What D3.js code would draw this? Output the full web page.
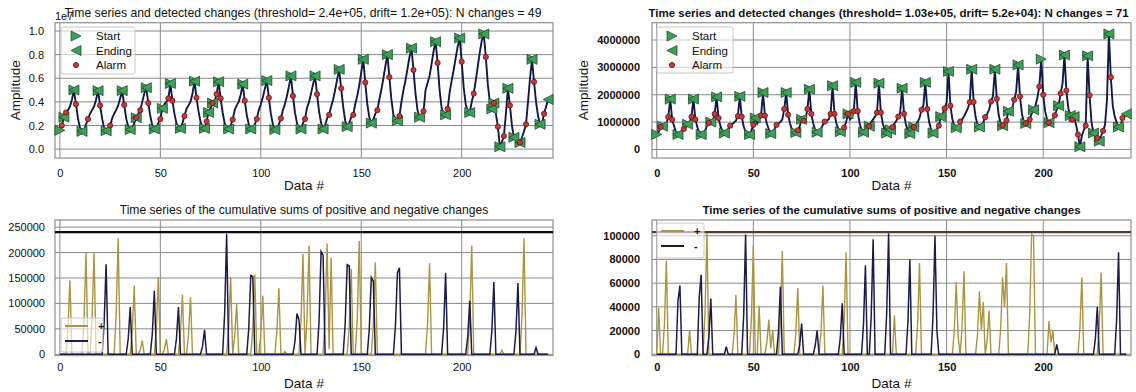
<!DOCTYPE html>
<html><head><meta charset="utf-8">
<script src="https://cdn.jsdelivr.net/npm/d3@7"></script>
<style>body{margin:0;background:#fff} svg text{font-family:"Liberation Sans",Arial,sans-serif;fill:#111}</style>
</head><body><svg id="c" width="1136" height="392"></svg>
<script>
// ---------------- DATA ----------------
const xTicks = [0, 50, 100, 150, 200];

// Left dataset: amplitude in units of 1e7
const ampLeft = [0.16,0.20,0.27,0.31,0.33,0.36,0.42,0.50,0.38,0.26,0.18,0.15,
0.16,0.21,0.255,0.30,0.33,0.36,0.42,0.495,0.37,0.26,0.18,0.155,
0.17,0.20,0.26,0.30,0.33,0.37,0.43,0.495,0.375,0.26,0.19,0.165,
0.175,0.22,0.265,0.30,0.33,0.40,0.47,0.52,0.39,0.28,0.20,0.17,
0.175,0.22,0.255,0.345,0.38,0.40,0.43,0.555,0.41,0.30,0.22,0.185,
0.175,0.22,0.28,0.34,0.37,0.40,0.47,0.575,0.435,0.32,0.23,0.19,
0.175,0.235,0.31,0.35,0.39,0.40,0.465,0.57,0.43,0.31,0.22,0.18,
0.17,0.20,0.25,0.33,0.37,0.40,0.46,0.55,0.41,0.29,0.21,0.17,
0.175,0.21,0.255,0.33,0.38,0.44,0.51,0.58,0.435,0.30,0.21,0.165,
0.17,0.21,0.26,0.33,0.38,0.45,0.53,0.62,0.45,0.31,0.22,0.175,
0.17,0.22,0.255,0.35,0.40,0.47,0.55,0.62,0.465,0.32,0.22,0.17,
0.20,0.26,0.29,0.36,0.42,0.50,0.59,0.675,0.515,0.36,0.24,0.19,
0.22,0.27,0.29,0.38,0.45,0.54,0.65,0.76,0.565,0.38,0.27,0.22,
0.25,0.30,0.33,0.42,0.50,0.60,0.70,0.80,0.61,0.42,0.29,0.245,
0.24,0.28,0.40,0.50,0.58,0.68,0.78,0.855,0.67,0.47,0.33,0.27,
0.28,0.32,0.50,0.56,0.62,0.72,0.83,0.91,0.73,0.50,0.35,0.30,
0.29,0.34,0.48,0.58,0.67,0.77,0.87,0.94,0.74,0.52,0.38,0.32,
0.31,0.40,0.47,0.58,0.70,0.82,0.92,0.975,0.78,0.55,0.40,0.34,
0.39,0.30,0.19,0.02,0.06,0.11,0.30,0.515,0.37,0.20,0.10,0.08,
0.06,0.056,0.10,0.15,0.21,0.40,0.60,0.76,0.57,0.40,0.28,0.21,
0.22,0.30,0.36,0.42];
const startLeft = [0,2,7,11,19,23,31,35,38,43,47,51,55,60,67,72,74,76,79,84,91,95,103,107,115,120,127,131,139,143,151,155,163,168,175,179,187,192,199,204,211,215,216,219,223,226,229,235,239];
const endLeft = [2,7,11,19,23,31,35,38,43,47,51,55,60,67,72,74,76,79,84,91,95,103,107,115,120,127,131,139,143,151,155,163,168,175,179,187,192,199,204,211,215,216,219,223,226,229,235,239,243];
const alarmLeft = [1,3,8,14,20,25,32,38,40,44,50,54,56,62,68,73,76,78,80,86,92,98,104,110,116,122,128,134,140,146,152,158,164,169,176,181,188,193,200,206,212,216,218,221,224,229,232,236,241];
const yTicksTL = [0, 0.2, 0.4, 0.6, 0.8, 1.0];

// Right dataset: amplitude in millions
const ampRightM = [0.55,0.65,0.82,0.85,0.88,0.95,1.19,1.84,1.09,0.85,0.62,0.545,
0.58,0.65,0.75,0.88,0.92,0.98,1.2,1.84,1.1,0.82,0.62,0.545,
0.56,0.7,0.85,0.97,1.0,1.05,1.3,1.92,1.15,0.85,0.66,0.6,
0.62,0.75,0.87,0.92,0.98,1.05,1.22,1.94,1.2,0.85,0.64,0.56,
0.545,0.7,0.9,1.15,0.95,1.1,1.24,2.08,1.24,0.95,0.73,0.58,
0.58,0.75,0.9,0.95,1.0,1.1,1.48,2.08,1.27,0.95,0.72,0.62,
0.62,0.7,0.85,1.1,1.05,1.1,1.48,2.2,1.3,0.95,0.72,0.63,
0.63,0.75,0.9,1.02,1.05,1.1,1.3,2.33,1.3,0.95,0.75,0.65,
0.65,0.8,1.0,1.3,1.1,1.2,1.4,2.45,1.4,0.95,0.72,0.63,
0.63,0.75,0.85,1.0,1.1,1.2,1.35,2.42,1.35,0.95,0.7,0.6,
0.62,0.72,0.82,0.95,1.05,1.2,1.35,2.24,1.3,0.9,0.68,0.58,
0.6,0.82,0.9,1.0,1.15,1.45,1.6,2.45,1.48,1.0,0.72,0.6,
0.6,0.75,0.87,1.2,1.3,1.5,1.7,2.85,1.6,1.1,0.85,0.79,
0.8,1.02,1.1,1.2,1.35,1.5,1.73,2.93,1.73,1.2,0.9,0.82,
0.85,1.0,1.18,1.3,1.45,1.75,1.95,2.93,1.85,1.25,0.95,0.87,
0.9,1.06,1.4,1.3,1.5,1.82,2.1,3.09,1.94,1.3,1.0,0.95,
0.95,1.1,1.3,1.45,1.6,1.9,2.3,3.3,2.0,1.4,1.1,0.98,
0.98,1.1,1.25,1.45,1.6,2.05,2.4,3.45,2.15,1.5,1.24,1.09,
1.2,0.9,0.545,0.1,0.5,0.7,0.87,3.42,1.98,1.0,0.6,0.45,
0.42,0.3,0.5,0.68,0.9,1.8,4.22,2.64,1.6,1.2,1.0,0.82,
0.82,1.15,1.2,1.3];
const startRight = [0,3,7,11,16,19,23,28,31,35,43,48,51,55,59,67,72,75,79,83,91,95,99,103,107,110,115,119,121,127,131,133,139,143,147,151,155,163,167,175,179,182,187,191,195,199,203,208,211,214,216,219,223,226,229,234,239];
const endRight = [3,7,11,16,19,23,28,31,35,43,48,51,55,59,67,72,75,79,83,91,95,99,103,107,110,115,119,121,127,131,133,139,143,147,151,155,163,167,175,179,182,187,191,195,203,208,211,214,216,219,223,226,229,234,239,243];
const alarmRight = [2,6,8,14,18,20,27,30,32,38,42,44,50,54,56,62,66,68,73,76,78,80,87,90,92,97,99,102,104,110,114,116,122,125,128,133,137,140,146,149,152,157,162,164,170,173,176,179,181,185,188,191,193,198,200,203,206,209,212,215,218,222,224,228,231,235,241];
const yTicksTR = [0, 1000000, 2000000, 3000000, 4000000];

// Cumulative sums: non-zero points [index, value]; all other points are 0
const gpLeftPts = [[4,50000],[5,145000],[12,70000],[13,200000],[16,70000],[17,200000],[28,80000],[29,228000],[36,45000],[37,135000],[40,9000],[41,27000],[48,50000],[49,152000],[52,10000],[53,30000],[60,40000],[61,117000],[64,38000],[65,112000],[84,50000],[85,152000],[87,35000],[88,100000],[96,50000],[97,157000],[100,40000],[101,115000],[108,45000],[109,130000],[112,5000],[120,65000],[121,197000],[123,70000],[124,214000],[132,70000],[133,218000],[134,10000],[135,190000],[144,55000],[145,168000],[148,70000],[149,223000],[156,60000],[157,181000],[183,60000],[184,179000],[204,70000],[205,214000],[220,8000],[230,75000],[231,228000]];
const gnLeftPts = [[22,60000],[23,177000],[34,30000],[35,93000],[46,40000],[47,125000],[58,30000],[59,93000],[71,16000],[72,48000],[82,80000],[83,237000],[94,50000],[95,155000],[96,153000],[117,25000],[118,80000],[119,68000],[129,65000],[130,202000],[131,195000],[142,60000],[143,176000],[144,174000],[154,50000],[155,151000],[156,144000],[167,55000],[168,160000],[169,170000],[191,52000],[192,160000],[203,35000],[204,105000],[215,45000],[216,142000],[227,45000],[228,140000],[237,13000]];
const gpRightPts = [[1,39000],[4,25000],[5,79000],[17,20000],[25,35000],[26,102000],[40,16000],[41,50000],[49,30000],[50,92000],[53,41000],[57,10000],[58,29000],[59,5000],[60,20000],[64,28000],[65,87000],[72,18000],[73,56000],[85,19000],[86,58000],[97,28000],[98,86000],[123,33000],[135,25000],[136,77000],[154,20000],[155,61000],[156,15000],[158,23000],[159,70000],[166,17000],[167,53000],[168,20000],[169,44000],[171,12000],[172,37000],[178,22000],[179,65000],[180,40000],[181,77000],[193,33000],[194,101000],[195,100000],[203,28000],[204,10000],[205,20000],[219,22000],[220,65000],[229,23000],[230,69000]];
const gnRightPts = [[11,45000],[12,58000],[22,48000],[23,67000],[27,15000],[28,47000],[36,6500],[45,33000],[46,101000],[63,19000],[64,57000],[74,8000],[75,26000],[82,7000],[83,20000],[95,14000],[96,43000],[107,25000],[108,75000],[111,32000],[112,97000],[119,34000],[120,102000],[130,27000],[131,80000],[143,33000],[144,100000],[145,20000],[207,8400],[227,13000],[228,40000],[238,29000],[239,86000]];
const yTicksBL = [0, 50000, 100000, 150000, 200000, 250000];
const yTicksBR = [0, 20000, 40000, 60000, 80000, 100000];

const thresholdLeft = 240000, thresholdRight = 103000;
const titleTL = "Time series and detected changes (threshold= 2.4e+05, drift= 1.2e+05): N changes = 49";
const titleTR = "Time series and detected changes (threshold= 1.03e+05, drift= 5.2e+04): N changes = 71";
const titleB = "Time series of the cumulative sums of positive and negative changes";

// ---------------- DRAWING ----------------
const svg = d3.select('#c');
const GRID = '#8a8a8a', FRAME = '#999999';
const LINE = '#121848', GREEN = '#3f9f5a', GREEN_E = '#1f4f2c', RED = '#c4393a', RED_E = '#6b1212';
const GP = '#a99542', GN = '#1b1b4b';
let clipId = 0;

function panel(o) {
  const N = o.n;
  const x = d3.scaleLinear().domain([-0.01 * N, 1.01 * N - 1]).range([o.x0, o.x1]);
  const y = d3.scaleLinear().domain(o.ydom).range([o.y1, o.y0]);
  const g = svg.append('g');
  g.selectAll(null).data(o.xt).join('line')
    .attr('x1', d => x(d)).attr('x2', d => x(d)).attr('y1', o.y0).attr('y2', o.y1)
    .attr('stroke', GRID).attr('stroke-width', 1);
  g.selectAll(null).data(o.yt).join('line')
    .attr('y1', d => y(d)).attr('y2', d => y(d)).attr('x1', o.x0).attr('x2', o.x1)
    .attr('stroke', GRID).attr('stroke-width', 1);
  g.append('rect').attr('x', o.x0).attr('y', o.y0).attr('width', o.x1 - o.x0).attr('height', o.y1 - o.y0)
    .attr('fill', 'none').attr('stroke', FRAME).attr('stroke-width', 1.3);
  const fw = o.bold ? 'bold' : 'normal';
  const ax = g.append('g').attr('transform', `translate(0,${o.y1})`)
    .call(d3.axisBottom(x).tickValues(o.xt).tickSize(0).tickPadding(o.xpad));
  ax.select('.domain').remove();
  ax.selectAll('text').attr('font-size', 11).attr('font-weight', fw).attr('fill', '#111');
  const ay = g.append('g').attr('transform', `translate(${o.x0},0)`)
    .call(d3.axisLeft(y).tickValues(o.yt).tickSize(0).tickPadding(o.ypad).tickFormat(o.yfmt));
  ay.select('.domain').remove();
  ay.selectAll('text').attr('font-size', 11).attr('font-weight', fw).attr('fill', '#111');
  g.append('text').attr('x', (o.x0 + o.x1) / 2 + (o.tdx || 0)).attr('y', o.ty).attr('text-anchor', 'middle')
    .attr('font-size', o.tsize).attr('font-weight', fw).text(o.title);
  g.append('text').attr('x', (o.x0 + o.x1) / 2).attr('y', o.y1 + 32).attr('text-anchor', 'middle')
    .attr('font-size', 13.5).text('Data #');
  const id = 'clip' + (clipId++);
  svg.append('clipPath').attr('id', id).append('rect')
    .attr('x', o.x0).attr('y', o.y0).attr('width', o.x1 - o.x0).attr('height', o.y1 - o.y0);
  const inner = g.append('g').attr('clip-path', `url(#${id})`);
  return { x, y, g, inner };
}

const triR = 'M-5,-5L5,0L-5,5Z', triL = 'M5,-5L-5,0L5,5Z';

function topPanel(o, data, starts, ends, alarms) {
  const ext = d3.extent(data), r = ext[1] - ext[0];
  o.ydom = [ext[0] - 0.1 * r, ext[1] + 0.1 * r];
  o.n = data.length;
  const p = panel(o);
  const { x, y } = p;
  p.inner.append('path').datum(data)
    .attr('d', d3.line().x((d, i) => x(i)).y(d => y(d)))
    .attr('fill', 'none').attr('stroke', LINE).attr('stroke-width', 1.9);
  p.g.selectAll(null).data(starts).join('path')
    .attr('transform', d => `translate(${x(d)},${y(data[d])})`).attr('d', triR)
    .attr('fill', GREEN).attr('stroke', GREEN_E).attr('stroke-width', 0.8);
  p.g.selectAll(null).data(ends).join('path')
    .attr('transform', d => `translate(${x(d)},${y(data[d])})`).attr('d', triL)
    .attr('fill', GREEN).attr('stroke', GREEN_E).attr('stroke-width', 0.8);
  p.g.selectAll(null).data(alarms).join('circle')
    .attr('cx', d => x(d)).attr('cy', d => y(data[d])).attr('r', 2.6)
    .attr('fill', RED).attr('stroke', RED_E).attr('stroke-width', 0.8);
  p.g.append('text').attr('transform', `translate(${o.ylx},${(o.y0 + o.y1) / 2}) rotate(-90)`)
    .attr('text-anchor', 'middle').attr('dy', '0.35em').attr('font-size', 13.5).text('Amplitude');
  const L = o.leg;
  const lg = p.g.append('g');
  lg.append('rect').attr('x', L.x).attr('y', L.y).attr('width', L.w).attr('height', L.h).attr('rx', 2)
    .attr('fill', 'rgba(255,255,255,0.6)').attr('stroke', '#c8c8c8');
  const items = [['Start', 'R'], ['Ending', 'L'], ['Alarm', 'o']];
  items.forEach((it, k) => {
    const cy = L.y + 9 + k * 14.5, mx = L.x + 15;
    if (it[1] === 'o') lg.append('circle').attr('cx', mx).attr('cy', cy).attr('r', 2.6).attr('fill', RED).attr('stroke', RED_E).attr('stroke-width', 0.8);
    else lg.append('path').attr('transform', `translate(${mx},${cy})`).attr('d', it[1] === 'R' ? triR : triL)
      .attr('fill', GREEN).attr('stroke', GREEN_E).attr('stroke-width', 0.8);
    lg.append('text').attr('x', L.x + 35).attr('y', cy).attr('dy', '0.35em').attr('font-size', 11.5).text(it[0]);
  });
  return p;
}

function series(pts, n) {
  const m = new Map(pts);
  return d3.range(n).map(i => m.has(i) ? m.get(i) : 0);
}

function bottomPanel(o, gpPts, gnPts, thr, n) {
  o.ydom = [-0.01 * thr, 1.1 * thr];
  o.n = n;
  const p = panel(o);
  const { x, y } = p;
  const line = d3.line().x((d, i) => x(i)).y(d => y(d));
  p.inner.append('path').datum(series(gpPts, n)).attr('d', line)
    .attr('fill', 'none').attr('stroke', GP).attr('stroke-width', 1.4);
  p.inner.append('path').datum(series(gnPts, n)).attr('d', line)
    .attr('fill', 'none').attr('stroke', GN).attr('stroke-width', 1.5);
  p.g.append('line').attr('x1', o.x0).attr('x2', o.x1).attr('y1', y(thr)).attr('y2', y(thr))
    .attr('stroke', o.thrColor).attr('stroke-width', 2.2);
  const L = o.leg;
  const lg = p.g.append('g');
  lg.append('rect').attr('x', L.x).attr('y', L.y).attr('width', L.w).attr('height', L.h).attr('rx', 2)
    .attr('fill', 'rgba(255,255,255,0.6)').attr('stroke', '#c8c8c8');
  [['+', GP], ['-', GN]].forEach((it, k) => {
    const cy = L.y + 8 + k * 15;
    lg.append('line').attr('x1', L.x + 4).attr('x2', L.x + 27).attr('y1', cy).attr('y2', cy)
      .attr('stroke', it[1]).attr('stroke-width', 2);
    lg.append('text').attr('x', L.x + 37).attr('y', cy).attr('dy', '0.35em').attr('font-size', 11)
      .attr('font-weight', 'bold').text(it[0]);
  });
  return p;
}

const ampRight = ampRightM.map(v => v * 1e6);

topPanel({ x0: 55, x1: 553, y0: 22.7, y1: 158, xt: xTicks, yt: yTicksTL, yfmt: d3.format('.1f'),
  xpad: 11, ypad: 11, title: titleTL, ty: 17, tsize: 12.2, tdx: -1, ylx: 15,
  leg: { x: 61, y: 27, w: 74, h: 47 } }, ampLeft, startLeft, endLeft, alarmLeft);
svg.append('text').attr('x', 55).attr('y', 20).attr('font-size', 11).text('1e7');

topPanel({ x0: 652, x1: 1131, y0: 22.7, y1: 158, xt: xTicks, yt: yTicksTR, yfmt: d3.format('d'),
  xpad: 11, ypad: 12, title: titleTR, ty: 17, tsize: 11.5, bold: true, tdx: -3, ylx: 583,
  leg: { x: 657, y: 27, w: 76, h: 46 } }, ampRight, startRight, endRight, alarmRight);

bottomPanel({ x0: 55, x1: 553, y0: 220, y1: 355.5, xt: xTicks, yt: yTicksBL, yfmt: d3.format('d'),
  xpad: 8, ypad: 10, title: titleB, ty: 214, tsize: 12.1, thrColor: '#0a0a0a',
  leg: { x: 61, y: 318, w: 42, h: 34 } }, gpLeftPts, gnLeftPts, thresholdLeft, ampLeft.length);

bottomPanel({ x0: 652, x1: 1131, y0: 220, y1: 355.5, xt: xTicks, yt: yTicksBR, yfmt: d3.format('d'),
  xpad: 8, ypad: 12, title: titleB, ty: 214, tsize: 11.5, bold: true, thrColor: '#5b3a34',
  leg: { x: 657, y: 223, w: 47, h: 35 } }, gpRightPts, gnRightPts, thresholdRight, ampRight.length);
</script></body></html>
